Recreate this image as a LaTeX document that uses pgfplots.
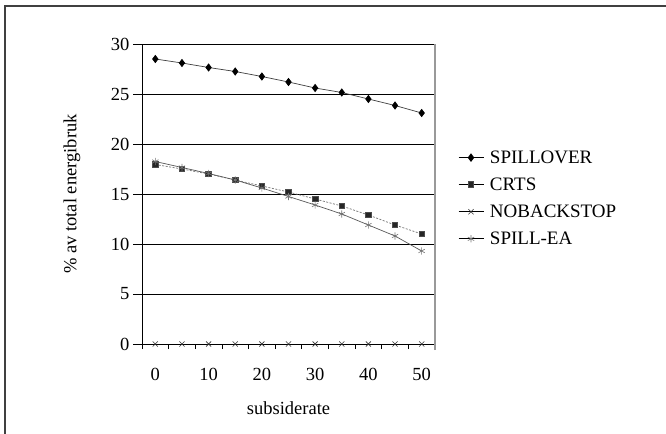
\documentclass[border=0pt]{standalone}
\usepackage{fontspec}
\setmainfont{Liberation Serif}
\usepackage{pgfplots}
\pgfplotsset{compat=1.18}
\begin{document}
\begin{tikzpicture}
\useasboundingbox (0,0) rectangle (666bp,434bp);
\fill[white] (0,0) rectangle (666bp,434bp);
\draw[line width=1.4bp, black!75] (5bp,0bp) -- (5bp,428bp) -- (666bp,428bp);
\begin{axis}[
  at={(142bp,90bp)}, anchor=south west,
  scale only axis, width=293bp, height=300bp,
  xmin=-2.5, xmax=52.5, ymin=0, ymax=30,
  axis lines=left, axis line style={-, black, line width=0.9bp},
  clip=false,
  /pgf/number format/assume math mode=true,
  tick label style={font=\fontsize{18.5bp}{22bp}\selectfont},
  label style={font=\fontsize{18.5bp}{22bp}\selectfont},
  xtick={0,10,20,30,40,50},
  xtick style={draw=none},
  extra x ticks={-2.5,2.5,7.5,12.5,17.5,22.5,27.5,32.5,37.5,42.5,47.5,52.5},
  extra x tick labels={},
  extra x tick style={xtick style={draw=black, line width=0.8bp}, major tick length=5bp, tick align=outside},
  ytick={0,5,10,15,20,25,30},
  ytick style={black, line width=0.8bp},
  tick align=outside, major tick length=9bp,
  ymajorgrids, grid style={black, line width=0.9bp},
  xticklabel style={yshift=-12bp},
  xlabel={subsiderate},
  ylabel={\% av total energibruk},
  xlabel style={at={(axis description cs:0.5,-0.215)}, anchor=center},
  ylabel style={at={(axis description cs:-0.239,0.5)}, anchor=center},
  legend style={draw=none, fill=none, at={(axis description cs:1.078,0.652)}, anchor=north west,
    font=\fontsize{19bp}{22bp}\selectfont, inner sep=0pt, row sep=9bp, column sep=4bp},
  legend cell align=left,
  legend image code/.code={\draw[mark repeat=2,mark phase=2,#1, solid, draw=black, line width=0.9bp] plot coordinates {(0bp,0bp) (12.5bp,0bp) (25bp,0bp)};},
]
\addplot[black!75, line width=0.7bp, mark=diamond*, mark size=3.6bp, mark options={fill=black, draw=black, solid}]
  coordinates {(0,28.5) (5,28.1) (10,27.65) (15,27.25) (20,26.75) (25,26.2) (30,25.6) (35,25.15) (40,24.5) (45,23.85) (50,23.1)};
\addlegendentry{SPILLOVER}
\addplot[black!55, line width=0.7bp, dash pattern=on 2bp off 1.5bp, mark=square*, mark size=2.8bp, mark options={fill=black!85, draw=black!70, solid}]
  coordinates {(0,17.95) (5,17.5) (10,17.0) (15,16.4) (20,15.8) (25,15.2) (30,14.5) (35,13.8) (40,12.9) (45,11.9) (50,11.0)};
\addlegendentry{CRTS}
\addplot[black, line width=0.7bp, mark=x, mark size=3.6bp, mark options={black!80, line width=0.6bp, solid}]
  coordinates {(0,0) (5,0) (10,0) (15,0) (20,0) (25,0) (30,0) (35,0) (40,0) (45,0) (50,0)};
\addlegendentry{NOBACKSTOP}
\addplot[black!65, line width=0.7bp, mark=asterisk, mark size=3.6bp, mark options={black!55, line width=0.6bp, solid}]
  coordinates {(0,18.25) (5,17.65) (10,17.05) (15,16.4) (20,15.6) (25,14.75) (30,13.9) (35,13.0) (40,11.9) (45,10.8) (50,9.3)};
\addlegendentry{SPILL-EA}
\draw[black!40, line width=1.3bp] (rel axis cs:1,-0.02) -- (rel axis cs:1,1);
\end{axis}
\end{tikzpicture}
\end{document}
